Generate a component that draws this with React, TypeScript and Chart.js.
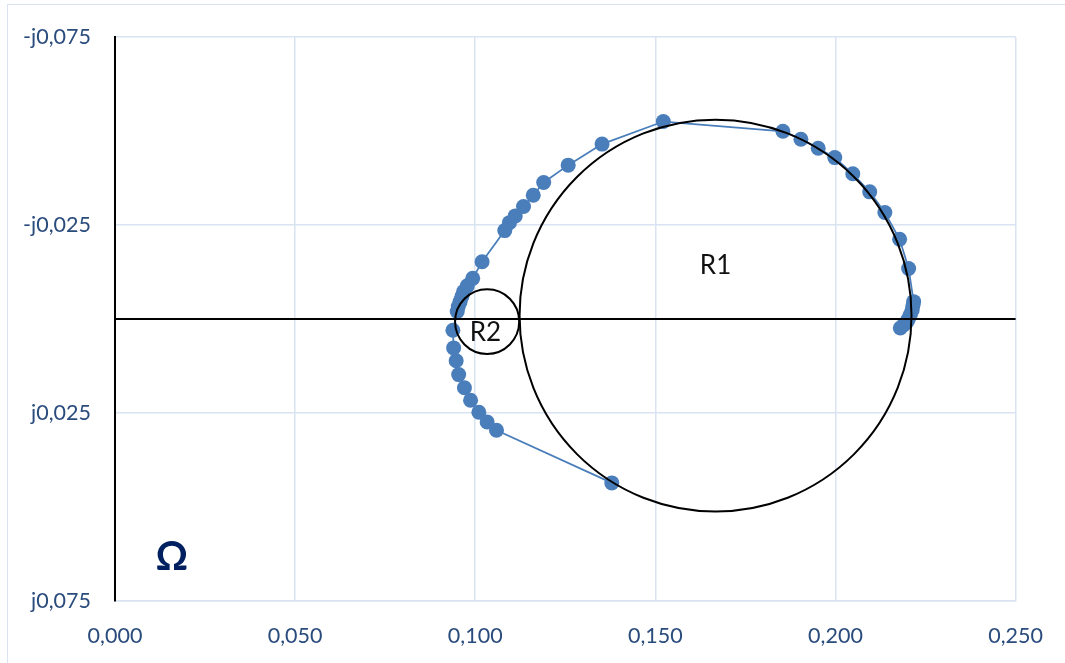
import React, { useEffect, useRef } from "react";
import { Chart, registerables } from "chart.js";

Chart.register(...registerables);

// Impedance points (real part, imaginary part; positive imaginary plotted downward)
const reValues = [
  0.1379, 0.1059, 0.1033, 0.101, 0.0987, 0.097, 0.0954, 0.0947, 0.094, 0.0938,
  0.095, 0.0953, 0.0958, 0.0963, 0.0968, 0.0978, 0.0993, 0.1019, 0.1082, 0.1095,
  0.1111, 0.1134, 0.1161, 0.119, 0.1258, 0.1352, 0.1522, 0.1854, 0.1904, 0.1952,
  0.1998, 0.2048, 0.2095, 0.2137, 0.2178, 0.2203, 0.2217, 0.2215, 0.2213, 0.2208,
  0.2203, 0.2199, 0.219, 0.218,
];
const imValues = [
  0.0436, 0.0296, 0.0274, 0.0248, 0.0216, 0.0183, 0.0148, 0.0111, 0.0077, 0.003,
  -0.002, -0.0033, -0.0046, -0.006, -0.0073, -0.0088, -0.0108, -0.0152, -0.0235, -0.0256,
  -0.0274, -0.0299, -0.0329, -0.0363, -0.0409, -0.0465, -0.0525, -0.0499, -0.0478, -0.0454,
  -0.0429, -0.0386, -0.0338, -0.0283, -0.0212, -0.0134, -0.0046, -0.0036, -0.0024, -0.0012,
  -0.0001, 0.0007, 0.0015, 0.0024,
];

const xTicks = [0, 0.05, 0.1, 0.15, 0.2, 0.25];
const yTicks = [-0.075, -0.025, 0.025, 0.075];

// Equivalent-circuit circles
const circleLabels = ["R1", "R2"];
const circleCenterRe = [0.1667, 0.1033];
const circleCenterIm = [-0.0009, 0.0007];
const circleRadiusRe = [0.0544, 0.0089];
const circleRadiusIm = [0.0521, 0.0086];
const circleLabelRe = [0.1667, 0.1028];
const circleLabelIm = [-0.0141, 0.0036];

const unitLabel = "Ω";
const unitLabelRe = 0.0158;
const unitLabelIm = 0.0634;

const BLUE = "#4A7EBB";
const GRID = "#D9E3F2";
const TICK_COLOR = "#2A4C7D";
const FONT = "Lato, 'Open Sans', 'DejaVu Sans', sans-serif";

const fmt = (v: number) => Math.abs(v).toFixed(3).replace(".", ",");

const overlayPlugin = {
  id: "overlay",
  afterDatasetsDraw(chart: any) {
    const { ctx, chartArea, scales } = chart;
    const xs = scales.x;
    const ys = scales.y;
    ctx.save();
    // zero line
    ctx.strokeStyle = "#000";
    ctx.lineWidth = 2;
    const y0 = ys.getPixelForValue(0);
    ctx.beginPath();
    ctx.moveTo(chartArea.left, y0);
    ctx.lineTo(chartArea.right, y0);
    ctx.stroke();
    // circles
    for (let i = 0; i < circleLabels.length; i++) {
      const cx = xs.getPixelForValue(circleCenterRe[i]);
      const cy = ys.getPixelForValue(circleCenterIm[i]);
      const rx = Math.abs(xs.getPixelForValue(circleCenterRe[i] + circleRadiusRe[i]) - cx);
      const ry = Math.abs(ys.getPixelForValue(circleCenterIm[i] + circleRadiusIm[i]) - cy);
      ctx.beginPath();
      ctx.ellipse(cx, cy, rx, ry, 0, 0, Math.PI * 2);
      ctx.stroke();
      ctx.fillStyle = "#111";
      ctx.font = `26px ${FONT}`;
      ctx.textAlign = "center";
      ctx.textBaseline = "middle";
      ctx.fillText(
        circleLabels[i],
        xs.getPixelForValue(circleLabelRe[i]),
        ys.getPixelForValue(circleLabelIm[i])
      );
    }
    ctx.fillStyle = "#002060";
    ctx.font = `bold 40px ${FONT}`;
    ctx.textAlign = "center";
    ctx.textBaseline = "middle";
    ctx.fillText(unitLabel, xs.getPixelForValue(unitLabelRe), ys.getPixelForValue(unitLabelIm));
    ctx.restore();
  },
};

export default function App() {
  const ref = useRef<HTMLCanvasElement | null>(null);
  useEffect(() => {
    if (!ref.current) return;
    const points = reValues.map((x, i) => ({ x, y: imValues[i] }));
    const chart = new Chart(ref.current, {
      type: "scatter",
      data: {
        datasets: [
          {
            data: points,
            showLine: true,
            borderColor: BLUE,
            borderWidth: 1.75,
            backgroundColor: BLUE,
            pointBackgroundColor: BLUE,
            pointBorderColor: BLUE,
            pointBorderWidth: 0,
            pointRadius: 7.5,
          },
        ],
      },
      options: {
        animation: false,
        responsive: false,
        maintainAspectRatio: false,
        layout: { padding: { left: 0, right: 48, top: 34, bottom: 0 } },
        plugins: { legend: { display: false }, tooltip: { enabled: false } },
        scales: {
          x: {
            type: "linear",
            min: 0,
            max: 0.25,
            afterBuildTicks: (s: any) => {
              s.ticks = xTicks.map((v) => ({ value: v }));
            },
            afterFit: (s: any) => {
              s.height = 62;
            },
            grid: { color: GRID, lineWidth: 1.5, drawTicks: false },
            border: { display: true, color: GRID, width: 1.5 },
            ticks: {
              padding: 22,
              color: TICK_COLOR,
              font: { family: FONT, size: 21.5 },
              callback: (v: any) => fmt(Number(v)),
              maxRotation: 0,
            },
          },
          y: {
            type: "linear",
            reverse: true,
            min: -0.075,
            max: 0.075,
            afterBuildTicks: (s: any) => {
              s.ticks = yTicks.map((v) => ({ value: v }));
            },
            afterFit: (s: any) => {
              s.width = 115;
            },
            grid: { color: GRID, lineWidth: 1.5, drawTicks: false },
            border: { display: true, color: "#000", width: 2 },
            ticks: {
              padding: 24,
              color: TICK_COLOR,
              font: { family: FONT, size: 21.5 },
              callback: (v: any) => {
                const n = Number(v);
                return (n < 0 ? "-j" : "j") + fmt(n);
              },
            },
          },
        },
      },
      plugins: [overlayPlugin],
    });
    return () => chart.destroy();
  }, []);

  return (
    <div style={{ position: "fixed", left: 0, top: 0, width: 1065, height: 663, background: "#fff", overflow: "hidden" }}>
      <div
        style={{
          position: "absolute",
          left: 7,
          top: 4,
          width: 1100,
          height: 700,
          border: `1.5px solid ${GRID}`,
          boxSizing: "border-box",
        }}
      />
      <canvas ref={ref} width={1065} height={663} style={{ position: "absolute", left: 0, top: 0 }} />
    </div>
  );
}
